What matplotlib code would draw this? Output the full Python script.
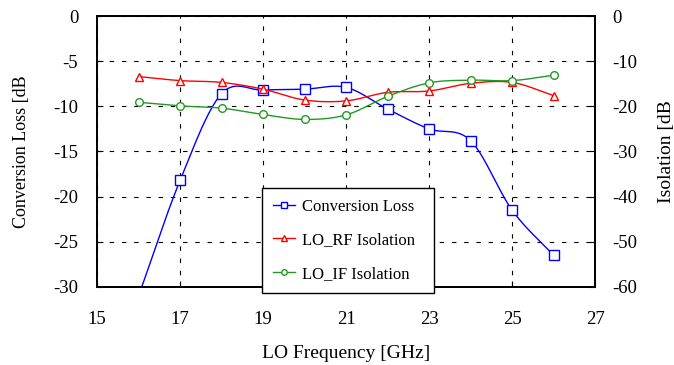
import matplotlib
matplotlib.use("Agg")
import matplotlib.pyplot as plt
import numpy as np

plt.rcParams['font.family'] = ['Liberation Serif', 'DejaVu Serif']
plt.rcParams['axes.unicode_minus'] = False

# valores
freq = [16, 17, 18, 19, 20, 21, 22, 23, 24, 25, 26]
conv_loss = [-31.0, -18.2, -8.6, -8.2, -8.1, -7.9, -10.3, -12.5, -13.8, -21.5, -26.5]
lo_rf = [-13.4, -14.3, -14.7, -16.2, -18.6, -18.8, -16.9, -16.6, -14.9, -14.7, -17.6]
lo_if = [-19.1, -19.9, -20.4, -21.8, -22.9, -21.9, -17.8, -14.8, -14.2, -14.3, -13.1]

AZUL = '#0000ff'
VERMELHO = '#ff0000'
VERDE = '#229922'


def suavizar(x, y, n=24):
    # curva suave tipo Excel (Catmull-Rom) so para desenhar a linha
    x = np.asarray(x, float)
    y = np.asarray(y, float)
    px = np.concatenate([[2 * x[0] - x[1]], x, [2 * x[-1] - x[-2]]])
    py = np.concatenate([[2 * y[0] - y[1]], y, [2 * y[-1] - y[-2]]])
    xs, ys = [], []
    t = np.linspace(0, 1, n)
    for i in range(1, len(px) - 2):
        for p, out in ((px, xs), (py, ys)):
            p0, p1, p2, p3 = p[i - 1], p[i], p[i + 1], p[i + 2]
            out.extend(0.5 * (2 * p1 + (-p0 + p2) * t
                              + (2 * p0 - 5 * p1 + 4 * p2 - p3) * t ** 2
                              + (-p0 + 3 * p1 - 3 * p2 + p3) * t ** 3))
    return np.array(xs), np.array(ys)


fig = plt.figure(figsize=(6.74, 3.65), dpi=100)
ax = fig.add_subplot(111)
fig.subplots_adjust(left=0.144, right=0.883, top=0.956, bottom=0.214)
ax2 = ax.twinx()

sx, sy = suavizar(freq, conv_loss)
ax.plot(sx, sy, color=AZUL, lw=1)
ax.plot(freq, conv_loss, ls='none', marker='s', ms=6.5, mfc='white', mec=AZUL, mew=1)

sx, sy = suavizar(freq, lo_rf)
ax2.plot(sx, sy, color=VERMELHO, lw=1)
ax2.plot(freq, lo_rf, ls='none', marker='^', ms=6, mfc='white', mec=VERMELHO, mew=1)

sx, sy = suavizar(freq, lo_if)
ax2.plot(sx, sy, color=VERDE, lw=1)
ax2.plot(freq, lo_if, ls='none', marker='o', ms=5.5, mfc='white', mec=VERDE, mew=1)

ax.set_xlim(15, 27)
ax.set_ylim(-30, 0)
ax2.set_ylim(-60, 0)
ax.set_xticks(np.arange(15, 28, 2))
ax.set_yticks(np.arange(-30, 1, 5))
ax2.set_yticks(np.arange(-60, 1, 10))

ax.grid(True, color='black', lw=0.8, ls=(0, (4, 7)))
ax.tick_params(axis='y', direction='in', length=4, pad=13.5, labelsize=13.5)
ax.tick_params(axis='x', direction='in', length=4, pad=17, labelsize=13.5)
ax2.tick_params(axis='y', direction='in', length=4, pad=12, labelsize=13.5)
for a in (ax, ax2):
    for s in a.spines.values():
        s.set_linewidth(1.3)

ax.set_xlabel('LO Frequency [GHz]', fontsize=14, labelpad=12.5)
ax.set_ylabel('Conversion Loss [dB', fontsize=13, labelpad=17)
ax2.set_ylabel('Isolation [dB', fontsize=14, labelpad=15)

h = [plt.Line2D([], [], color=AZUL, lw=1, marker='s', ms=5, mfc='white', mec=AZUL),
     plt.Line2D([], [], color=VERMELHO, lw=1, marker='^', ms=4.5, mfc='white', mec=VERMELHO),
     plt.Line2D([], [], color=VERDE, lw=1, marker='o', ms=4, mfc='white', mec=VERDE)]
leg = ax2.legend(h, ['Conversion Loss', 'LO_RF Isolation', 'LO_IF Isolation'],
                 loc='upper left',
                 bbox_to_anchor=(262 / 674, 1 - 289 / 365, 172 / 674, 101 / 365),
                 bbox_transform=fig.transFigure, mode='expand', borderaxespad=0,
                 fancybox=False, framealpha=1, edgecolor='black', fontsize=12,
                 labelspacing=1.05, borderpad=0.65, handlelength=1.3, handletextpad=0.45)
leg.get_frame().set_linewidth(1)

fig.savefig('out.png', dpi=100)
